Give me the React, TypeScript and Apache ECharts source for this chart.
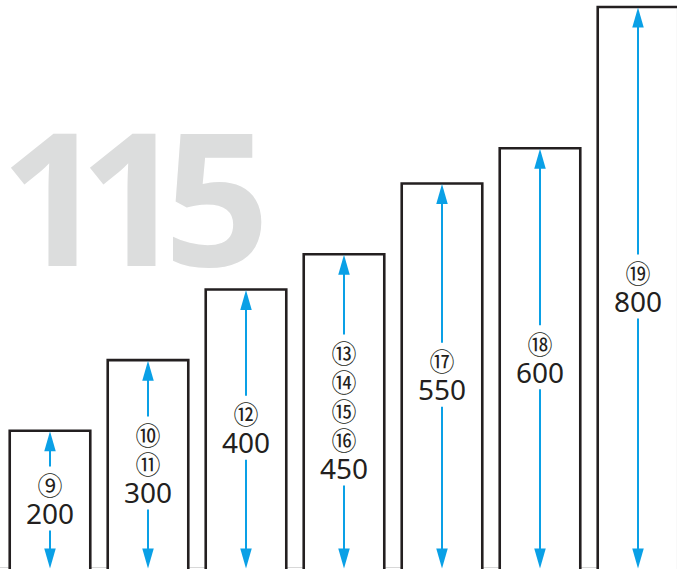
import React, { useEffect, useRef } from "react";
import * as echarts from "echarts";

const categories = ["⑨", "⑩⑪", "⑫", "⑬⑭⑮⑯", "⑰", "⑱", "⑲"];
const values = [200, 300, 400, 450, 550, 600, 800];
const bigNumber = "115";
const yMin = 0;
const yMax = 800;

const BLUE = "#0aa0e6";
const INK = "#231f20";

export default function App() {
  const ref = useRef<HTMLDivElement>(null);
  useEffect(() => {
    if (!ref.current) return;
    const chart = echarts.init(ref.current, undefined, { renderer: "svg" });
    const digitLefts = [0, 79, 164];
    const option: any = {
      animation: false,
      backgroundColor: "#ffffff",
      grid: { left: 1, top: 7, width: 686, bottom: 0 },
      xAxis: {
        type: "category",
        data: categories,
        show: false,
      },
      yAxis: {
        type: "value",
        min: yMin,
        max: yMax,
        show: false,
        splitLine: { show: false },
      },
      graphic: [
        ...Array.from(bigNumber).map((d, i) => ({
          type: "text",
          x: digitLefts[i],
          y: 194,
          z: 0,
          style: {
            text: d,
            fill: "#dcdddd",
            font: "bold 185px 'Open Sans', sans-serif",
            align: "left",
            verticalAlign: "middle",
          },
        })),
        {
          type: "line",
          z: 0,
          shape: { x1: 0, y1: 567.5, x2: 677, y2: 567.5 },
          style: { stroke: "#d8d8d8", lineWidth: 1 },
        },
      ],
      series: [
        {
          type: "custom",
          data: values.map((v, i) => [i, v]),
          encode: { x: 0, y: 1 },
          z: 5,
          renderItem: (params: any, api: any) => {
            const idx = api.value(0);
            const val = api.value(1);
            const top = api.coord([idx, val]);
            const base = api.coord([idx, 0]);
            const bw = api.size([1, 0])[0] * 0.822;
            const cx = top[0];
            const topY = top[1];
            const baseY = base[1];
            const lines = Array.from(categories[idx]);
            const n = lines.length + 1;
            const midY = (topY + baseY) / 2 - 3;
            const half = n * 14.5 + 3;
            const headH = 20;
            const headW = 11.5;
            const tipBottom = Math.min(baseY, 568.5);
            const tipTop = topY + 0.5;
            const text =
              lines.map((c) => `{c|${c}}`).join("\n") + `\n{v|${val}}`;
            return {
              type: "group",
              children: [
                {
                  type: "rect",
                  shape: { x: cx - bw / 2, y: topY, width: bw, height: baseY - topY },
                  style: { fill: "#ffffff", stroke: INK, lineWidth: 2.6 },
                },
                {
                  type: "line",
                  shape: { x1: cx, y1: tipTop + headH - 2, x2: cx, y2: midY - half },
                  style: { stroke: BLUE, lineWidth: 2 },
                },
                {
                  type: "polygon",
                  shape: {
                    points: [
                      [cx, tipTop],
                      [cx - headW / 2, tipTop + headH],
                      [cx + headW / 2, tipTop + headH],
                    ],
                  },
                  style: { fill: BLUE },
                },
                {
                  type: "line",
                  shape: { x1: cx, y1: midY + half, x2: cx, y2: tipBottom - headH + 2 },
                  style: { stroke: BLUE, lineWidth: 2 },
                },
                {
                  type: "polygon",
                  shape: {
                    points: [
                      [cx, tipBottom],
                      [cx - headW / 2, tipBottom - headH],
                      [cx + headW / 2, tipBottom - headH],
                    ],
                  },
                  style: { fill: BLUE },
                },
                {
                  type: "text",
                  x: cx,
                  y: midY,
                  style: {
                    text,
                    align: "center",
                    verticalAlign: "middle",
                    rich: {
                      c: {
                        fontSize: 25,
                        lineHeight: 29,
                        fontFamily: "'Noto Sans CJK JP', 'Noto Sans', sans-serif",
                        fill: INK,
                        align: "center",
                      },
                      v: {
                        fontSize: 28,
                        lineHeight: 29,
                        fontFamily: "'Noto Sans', 'Open Sans', sans-serif",
                        fill: INK,
                        align: "center",
                      },
                    },
                  },
                },
              ],
            };
          },
        },
      ],
    };
    chart.setOption(option);
    return () => chart.dispose();
  }, []);
  return (
    <div
      ref={ref}
      style={{ position: "fixed", left: 0, top: 0, width: 690, height: 572 }}
    />
  );
}
